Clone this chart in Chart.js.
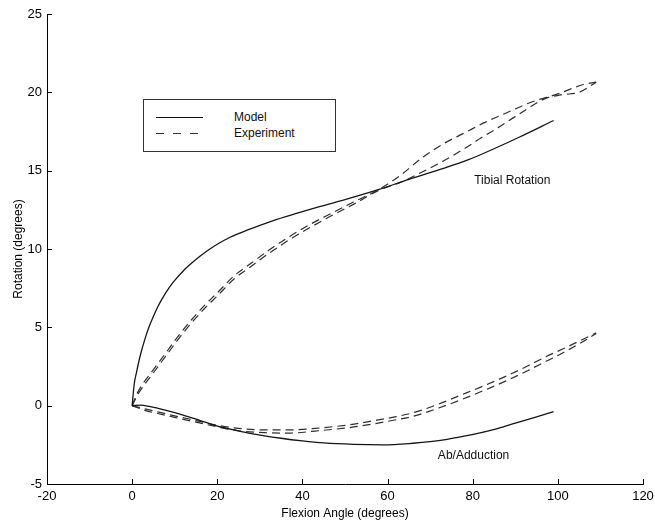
<!DOCTYPE html>
<html>
<head>
<meta charset="utf-8">
<script src="https://cdn.jsdelivr.net/npm/chart.js@4.4.1/dist/chart.umd.min.js"></script>
<style>
  body { margin: 0; background: #fff; }
  #wrap { position: relative; width: 655px; height: 525px; }
  #legend {
    position: absolute; left: 143px; top: 99px; width: 191px; height: 51px;
    border: 1px solid #333; background: #fff;
    font-family: "Liberation Sans", Arial, sans-serif; font-size: 12px; color: #111;
  }
  .row { position: absolute; left: 0; height: 14px; width: 100%; }
  .sample { position: absolute; left: 12px; top: 7px; width: 47px; height: 1.3px; }
  .label { position: absolute; left: 90px; top: 0; line-height: 14px; }
</style>
</head>
<body>
<div id="wrap">
  <canvas id="kneeChart"></canvas>
  <div id="legend">
    <div class="row" style="top:10px"><div class="sample" style="background:#111"></div><span class="label">Model</span></div>
    <div class="row" style="top:26px"><div class="sample" style="background:repeating-linear-gradient(to right, #333 0 8px, transparent 8px 17px)"></div><span class="label">Experiment</span></div>
  </div>
</div>
<script>
// Tibial rotation - modello
const tibModelX = [0, 0.5, 1, 2, 3, 4, 5, 6, 7, 8, 9, 10, 12, 14, 16, 18, 20, 23, 27, 33, 39, 44, 50, 58, 65, 72, 79, 85, 91, 99];
const tibModelY = [0, 1.4, 2.1, 3.3, 4.25, 5.05, 5.7, 6.3, 6.8, 7.25, 7.65, 8.0, 8.6, 9.1, 9.55, 9.95, 10.3, 10.75, 11.2, 11.8, 12.3, 12.7, 13.15, 13.8, 14.45, 15.05, 15.7, 16.4, 17.15, 18.2];

// Tibial rotation - esperimento (due prove)
const tibExpAX = [0, 1.3, 5, 8, 11, 14, 17, 20, 24, 28, 32, 37, 42, 47, 52, 58, 63, 68, 73, 78, 83, 88, 94, 100, 106, 109];
const tibExpAY = [0, 0.85, 2.3, 3.4, 4.5, 5.5, 6.4, 7.2, 8.3, 9.1, 9.9, 10.8, 11.6, 12.3, 13.0, 13.8, 14.7, 15.8, 16.7, 17.4, 18.1, 18.7, 19.4, 19.9, 20.5, 20.65];
const tibExpBX = [0, 1.3, 5, 8, 11, 14, 17, 20, 24, 28, 32, 37, 42, 47, 52, 58, 63, 68, 73, 78, 82, 86, 90, 97, 101, 105, 109];
const tibExpBY = [0, 0.7, 2.1, 3.2, 4.3, 5.3, 6.2, 7.0, 8.1, 8.9, 9.7, 10.6, 11.4, 12.15, 12.85, 13.75, 14.25, 14.9, 15.6, 16.4, 17.1, 17.75, 18.45, 19.6, 19.85, 20.0, 20.65];

// Ab/Adduction - modello
const abModelX = [0, 2, 4, 8, 12, 16, 20, 24, 28, 35, 40, 45, 52, 59, 66, 70, 74, 78, 82, 86, 90, 95, 99];
const abModelY = [0, 0.03, -0.05, -0.3, -0.6, -0.95, -1.3, -1.55, -1.78, -2.08, -2.25, -2.38, -2.47, -2.5, -2.4, -2.3, -2.15, -1.95, -1.72, -1.45, -1.12, -0.72, -0.38];

// Ab/Adduction - esperimento (due prove)
const abExpAX = [0, 3, 6, 10, 15, 20, 25, 31, 37, 43, 51, 57, 62, 66, 72, 77, 82, 88, 93, 97, 101, 105, 109];
const abExpAY = [0, -0.2, -0.4, -0.65, -0.95, -1.25, -1.45, -1.55, -1.55, -1.45, -1.22, -0.95, -0.7, -0.45, 0.1, 0.65, 1.2, 1.9, 2.55, 3.1, 3.6, 4.12, 4.65];
const abExpBX = [0, 3, 6, 10, 15, 20, 25, 31, 37, 43, 51, 57, 62, 66, 72, 77, 82, 88, 93, 97, 101, 105, 109];
const abExpBY = [0, -0.3, -0.5, -0.75, -1.05, -1.35, -1.6, -1.72, -1.75, -1.62, -1.4, -1.15, -0.9, -0.68, -0.15, 0.35, 0.9, 1.6, 2.25, 2.8, 3.35, 3.95, 4.6];

// Etichette sul grafico
const curveLabels = [
    { text: 'Tibial Rotation', x: 89.3, y: 14.35 },
    { text: 'Ab/Adduction', x: 80.2, y: -3.2 }
];

const FONT = '"Liberation Sans", Arial, sans-serif';

function toPoints(xs, ys) {
    return xs.map((x, i) => ({ x: x, y: ys[i] }));
}

function solid(xs, ys) {
    return { data: toPoints(xs, ys), borderColor: '#151515', borderWidth: 1.3, pointRadius: 0, fill: false, cubicInterpolationMode: 'monotone' };
}

function dashed(xs, ys) {
    return { data: toPoints(xs, ys), borderColor: '#2e2e2e', borderWidth: 1.2, borderDash: [8, 5], pointRadius: 0, fill: false, cubicInterpolationMode: 'monotone' };
}

// Tacche verso l'interno ed etichette delle curve
const innerTicks = {
    id: 'innerTicks',
    afterDraw(chart) {
        const ctx = chart.ctx;
        const xs = chart.scales.x, ys = chart.scales.y;
        const area = chart.chartArea;
        ctx.save();
        ctx.strokeStyle = '#000';
        ctx.lineWidth = 1;
        ctx.beginPath();
        xs.ticks.forEach(t => {
            const px = Math.round(xs.getPixelForValue(t.value)) + 0.5;
            ctx.moveTo(px, area.bottom);
            ctx.lineTo(px, area.bottom - 5);
        });
        ys.ticks.forEach(t => {
            const py = Math.round(ys.getPixelForValue(t.value)) + 0.5;
            ctx.moveTo(area.left, py);
            ctx.lineTo(area.left + 5, py);
        });
        ctx.stroke();
        ctx.fillStyle = '#111';
        ctx.font = '12px ' + FONT;
        ctx.textAlign = 'center';
        ctx.textBaseline = 'middle';
        curveLabels.forEach(l => {
            ctx.fillText(l.text, xs.getPixelForValue(l.x), ys.getPixelForValue(l.y));
        });
        ctx.restore();
    }
};

function fixSize(prop, size) {
    return function (scale) {
        scale[prop] = size;
        scale.paddingLeft = 0;
        scale.paddingRight = 0;
        scale.paddingTop = 0;
        scale.paddingBottom = 0;
    };
}

const ctx = document.getElementById('kneeChart').getContext('2d');
new Chart(ctx, {
    type: 'line',
    data: {
        datasets: [
            solid(tibModelX, tibModelY),
            dashed(tibExpAX, tibExpAY),
            dashed(tibExpBX, tibExpBY),
            solid(abModelX, abModelY),
            dashed(abExpAX, abExpAY),
            dashed(abExpBX, abExpBY)
        ]
    },
    options: {
        responsive: true,
        maintainAspectRatio: false,
        animation: false,
        layout: { padding: { left: 0, right: 12, top: 14, bottom: 0 } },
        plugins: { legend: { display: false }, tooltip: { enabled: false } },
        scales: {
            x: {
                type: 'linear',
                min: -20, max: 120,
                afterFit: fixSize('height', 41),
                border: { display: true, color: '#000', width: 1 },
                grid: { display: true, drawOnChartArea: false, drawTicks: false },
                ticks: { stepSize: 20, padding: 5, color: '#000', font: { family: FONT, size: 13 }, maxRotation: 0, autoSkip: false },
                title: { display: true, text: 'Flexion Angle (degrees)', color: '#000', font: { family: FONT, size: 12 }, padding: { top: 0, bottom: 4 } }
            },
            y: {
                type: 'linear',
                min: -5, max: 25,
                afterFit: fixSize('width', 47),
                border: { display: true, color: '#000', width: 1 },
                grid: { display: true, drawOnChartArea: false, drawTicks: false },
                ticks: { stepSize: 5, padding: 5, color: '#000', font: { family: FONT, size: 13 } },
                title: { display: true, text: 'Rotation (degrees)', color: '#000', font: { family: FONT, size: 12 }, padding: { top: 11, bottom: 0 } }
            }
        }
    },
    plugins: [innerTicks]
});
</script>
</body>
</html>
